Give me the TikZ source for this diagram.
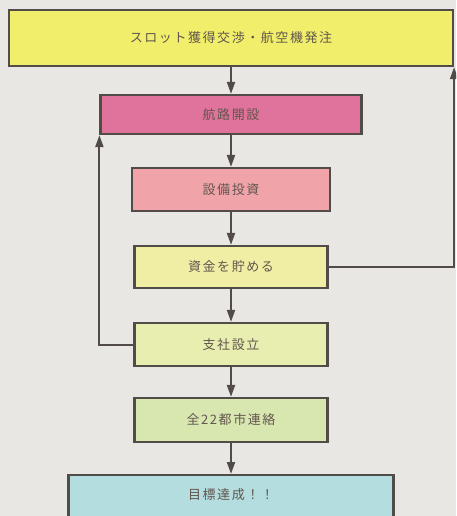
\documentclass[tikz,border=0pt]{standalone}
\usepackage{fontspec}
\setmainfont{Noto Sans CJK JP}
\newfontfamily\flowfont[LetterSpace=12]{Noto Sans CJK JP}
\usetikzlibrary{arrows.meta}
\definecolor{bgcol}{HTML}{E9E7E3}
\definecolor{edgecol}{HTML}{524C48}
\definecolor{txtcol}{HTML}{62564E}
\definecolor{slotcol}{HTML}{F0EE6A}
\definecolor{routecol}{HTML}{E0739C}
\definecolor{investcol}{HTML}{F0A4AA}
\definecolor{fundcol}{HTML}{F0EEA4}
\definecolor{branchcol}{HTML}{E8EEB0}
\definecolor{citycol}{HTML}{D8E6B0}
\definecolor{goalcol}{HTML}{B4DDE0}
\tikzset{
	flowbox/.style={draw=edgecol, line width=2.2pt, text=txtcol, inner sep=0pt, font=\flowfont\fontsize{13}{15}\selectfont},
	flowarrow/.style={draw=edgecol, line width=2pt, -{Triangle[width=8pt,length=12pt]}}
}

\begin{document}
\begin{tikzpicture}[x=1pt, y=-1pt]
		%%%%% START %%%%%
		\fill[bgcol] (0, 0) rectangle (456, 516);
		\clip (0, 0) rectangle (456, 516);
		
		\node[flowbox, fill=slotcol, minimum width=444, minimum height=56] (slot) at (231, 38) {スロット獲得交渉・航空機発注};
		\node[flowbox, fill=routecol, minimum width=261, minimum height=39] (route) at (231, 114.5) {航路開設};
		\node[flowbox, fill=investcol, minimum width=198, minimum height=43] (invest) at (231, 189.5) {設備投資};
		\node[flowbox, fill=fundcol, minimum width=193, minimum height=42] (fund) at (231, 267) {資金を貯める};
		\node[flowbox, fill=branchcol, minimum width=193, minimum height=43] (branch) at (231, 344.5) {支社設立};
		\node[flowbox, fill=citycol, minimum width=193, minimum height=44] (city) at (231, 420) {全22都市連絡};
		\node[flowbox, fill=goalcol, minimum width=325, anchor=north, inner ysep=4pt, text height=20pt, text depth=34pt] (goal) at (231, 474) {目標達成！！};
		
		\draw[flowarrow] (slot) -- (route);
		\draw[flowarrow] (route) -- (invest);
		\draw[flowarrow] (invest) -- (fund);
		\draw[flowarrow] (fund) -- (branch);
		\draw[flowarrow] (branch) -- (city);
		\draw[flowarrow] (city) -- (goal);
		
		\draw[flowarrow] (branch.west) -| (route.south west);
		\draw[flowarrow] (fund.east) -| (slot.south east);
		%%%%% END %%%%%
	\end{tikzpicture}
\end{document}
